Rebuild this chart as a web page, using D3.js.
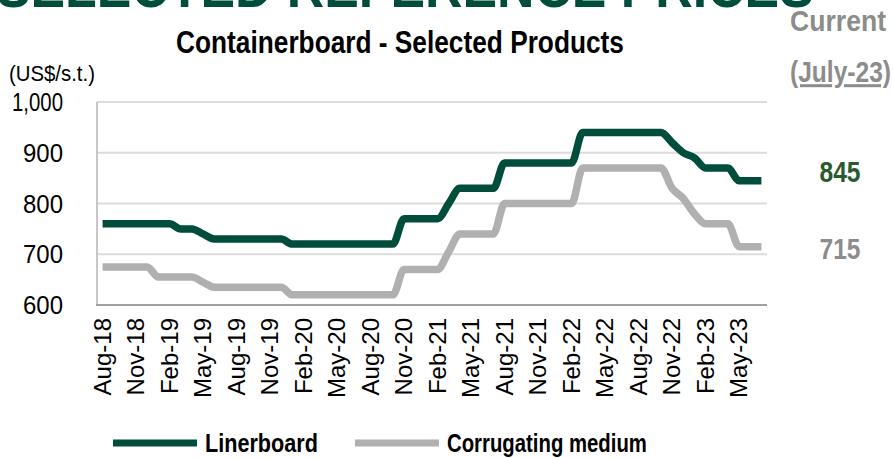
<!DOCTYPE html>
<html>
<head>
<meta charset="utf-8">
<script src="https://cdn.jsdelivr.net/npm/d3@7"></script>
<style>
  body { margin: 0; background: #fff; }
  svg { display: block; font-family: "Liberation Sans", Arial, sans-serif; }
</style>
</head>
<body>
<div id="chart"></div>
<script>

// monthly categories, Aug-18 .. Jul-23
var months = [
  "Aug-18","Sep-18","Oct-18","Nov-18","Dec-18",
  "Jan-19","Feb-19","Mar-19","Apr-19","May-19","Jun-19","Jul-19","Aug-19","Sep-19","Oct-19","Nov-19","Dec-19",
  "Jan-20","Feb-20","Mar-20","Apr-20","May-20","Jun-20","Jul-20","Aug-20","Sep-20","Oct-20","Nov-20","Dec-20",
  "Jan-21","Feb-21","Mar-21","Apr-21","May-21","Jun-21","Jul-21","Aug-21","Sep-21","Oct-21","Nov-21","Dec-21",
  "Jan-22","Feb-22","Mar-22","Apr-22","May-22","Jun-22","Jul-22","Aug-22","Sep-22","Oct-22","Nov-22","Dec-22",
  "Jan-23","Feb-23","Mar-23","Apr-23","May-23","Jun-23","Jul-23"
];

var linerboard = [
  760,760,760,760,760,760,760,750,750,740,
  730,730,730,730,730,730,730,720,720,720,
  720,720,720,720,720,720,720,770,770,770,
  770,800,830,830,830,830,880,880,880,880,
  880,880,880,940,940,940,940,940,940,940,
  940,920,900,890,870,870,870,845,845,845
];

var medium = [
  675,675,675,675,675,655,655,655,655,645,
  635,635,635,635,635,635,635,620,620,620,
  620,620,620,620,620,620,620,670,670,670,
  670,705,740,740,740,740,800,800,800,800,
  800,800,800,870,870,870,870,870,870,870,
  870,830,810,780,760,760,760,715,715,715
];

var xTickLabels = ["Aug-18","Nov-18","Feb-19","May-19","Aug-19","Nov-19","Feb-20","May-20",
                   "Aug-20","Nov-20","Feb-21","May-21","Aug-21","Nov-21","Feb-22","May-22",
                   "Aug-22","Nov-22","Feb-23","May-23"];
var yTicks = [600, 700, 800, 900, 1000];

var seriesNames = ["Linerboard", "Corrugating medium"];
var currentValues = [845, 715];

var GREEN = "#004d3b";
var GREY_LINE = "#b0b0b0";
var GREY_TEXT = "#8c8c8c";
var SX = 0.84;   // the original picture is squeezed horizontally

var W = 893, H = 458;
var svg = d3.select("#chart").append("svg")
    .attr("width", W)
    .attr("height", H);

var x = d3.scaleBand().domain(months).range([97, 767]);
var y = d3.scaleLinear().domain([600, 1000]).range([305, 102]);
var cx = function(m) { return x(m) + x.bandwidth() / 2; };

// squeezed text helper; if width given, fit to it
function label(str, px, py, o) {
  var t = svg.append("text")
      .attr("text-anchor", o.anchor || "start")
      .attr("font-size", o.size)
      .attr("font-weight", o.weight || "normal")
      .attr("fill", o.color || "#000")
      .text(str);
  if (o.underline) t.attr("text-decoration", "underline");
  var sx = SX;
  if (o.width) sx = o.width / t.node().getComputedTextLength();
  t.attr("transform", "translate(" + px + "," + py + ") scale(" + sx + ",1)");
  return t;
}

// header cut off at the top
label("SELECTED REFERENCE PRICES", -4, 7, {size: 60, weight: "bold", color: GREEN, width: 818});
label("Current", 886, 31, {anchor: "end", size: 30, weight: "bold", color: GREY_TEXT, width: 96});
label("Containerboard - Selected Products", 400, 53, {anchor: "middle", size: 31, weight: "bold", width: 448});
label("(US$/s.t.)", 9, 81, {size: 22, width: 86});
label("(July-23)", 891, 82, {anchor: "end", size: 30, weight: "bold", color: GREY_TEXT, width: 101, underline: true});

// gridlines
svg.append("g").selectAll("line")
  .data(yTicks.slice(1))
  .join("line")
    .attr("x1", 97).attr("x2", 767)
    .attr("y1", function(d) { return y(d); })
    .attr("y2", function(d) { return y(d); })
    .attr("stroke", "#dcdcdc")
    .attr("stroke-width", 2);

// axes
svg.append("line")
    .attr("x1", 97).attr("x2", 97).attr("y1", y(1000)).attr("y2", y(600))
    .attr("stroke", "#b4b4b4").attr("stroke-width", 1.5);
svg.append("line")
    .attr("x1", 96).attr("x2", 767).attr("y1", y(600)).attr("y2", y(600))
    .attr("stroke", "#a0a0a0").attr("stroke-width", 2);

// y tick labels
yTicks.forEach(function(v) {
  label(d3.format(",")(v), 63, y(v) + 9, {anchor: "end", size: 25, width: v >= 1000 ? 51 : 40});
});

// x tick labels, rotated
svg.append("g").selectAll("text")
  .data(xTickLabels)
  .join("text")
    .attr("text-anchor", "end")
    .attr("font-size", 24)
    .attr("transform", function(d) {
      return "translate(" + cx(d) + ",318) rotate(-90)";
    })
    .attr("dy", "0.35em")
    .text(function(d) { return d; });

// lines
var line = d3.line()
    .x(function(d, i) { return cx(months[i]); })
    .y(function(d) { return y(d); })
    .curve(d3.curveMonotoneX);

svg.append("path")
    .attr("d", line(medium))
    .attr("fill", "none")
    .attr("stroke", GREY_LINE)
    .attr("stroke-width", 7.5)
    .attr("stroke-linejoin", "round");

svg.append("path")
    .attr("d", line(linerboard))
    .attr("fill", "none")
    .attr("stroke", GREEN)
    .attr("stroke-width", 7.5)
    .attr("stroke-linejoin", "round");

// current values
label(String(currentValues[0]), 840, 182, {anchor: "middle", size: 29, weight: "bold", color: "#275a2c", width: 41});
label(String(currentValues[1]), 840, 259, {anchor: "middle", size: 29, weight: "bold", color: GREY_TEXT, width: 41});

// legend
svg.append("line").attr("x1", 113).attr("x2", 197).attr("y1", 443).attr("y2", 443)
    .attr("stroke", GREEN).attr("stroke-width", 7);
label(seriesNames[0], 205, 452, {size: 26, weight: "bold", width: 113});
svg.append("line").attr("x1", 355).attr("x2", 439).attr("y1", 443).attr("y2", 443)
    .attr("stroke", GREY_LINE).attr("stroke-width", 7);
label(seriesNames[1], 447, 452, {size: 26, weight: "bold", width: 200});

</script>
</body>
</html>
